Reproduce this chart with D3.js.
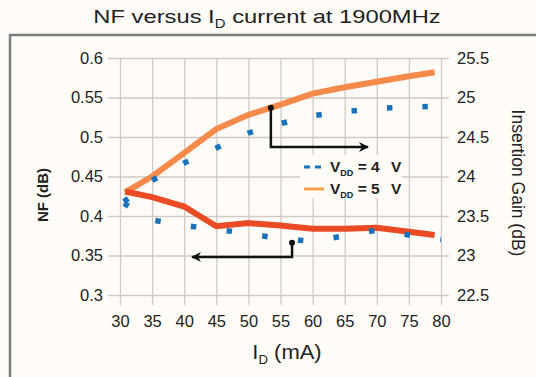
<!DOCTYPE html>
<html>
<head>
<meta charset="utf-8">
<script src="https://cdn.jsdelivr.net/npm/d3@7"></script>
<style>
  body { margin: 0; background: #fffcf7; }
  text { font-family: "Liberation Sans", Arial, sans-serif; fill: #222; }
</style>
</head>
<body>
<div id="chart"></div>
<script>
// x values (mA)
var currents = [30.6, 35, 40, 45, 50, 55, 60, 65, 70, 75, 80];
var currents5 = [30.8, 35, 40, 45, 50, 55, 60, 65, 70, 75, 79];
// NF (dB)
var nf4 = [0.416, 0.395, 0.388, 0.383, 0.378, 0.371, 0.368, 0.375, 0.382, 0.376, 0.370];
var nf5 = [0.431, 0.424, 0.412, 0.387, 0.391, 0.388, 0.384, 0.384, 0.385, 0.380, 0.376];
// insertion gain (dB)
var gain4 = [23.68, 23.95, 24.17, 24.36, 24.55, 24.67, 24.77, 24.82, 24.86, 24.88, 24.89];
var gain5 = [23.80, 24.00, 24.30, 24.60, 24.78, 24.91, 25.05, 25.13, 25.20, 25.27, 25.32];
// ticks
var xTicks = [30, 35, 40, 45, 50, 55, 60, 65, 70, 75, 80];
var nfTicks = [0.3, 0.35, 0.4, 0.45, 0.5, 0.55, 0.6];
var gainTicks = [22.5, 23, 23.5, 24, 24.5, 25, 25.5];

var W = 536, H = 377;
var pL = 120, pR = 441, pT = 58, pB = 295;

var svg = d3.select('#chart').append('svg')
    .attr('width', W)
    .attr('height', H);

svg.append('rect').attr('width', W).attr('height', H).attr('fill', '#fffcf7');

// frame
svg.append('path')
    .attr('d', 'M10,377V35H536')
    .attr('fill', 'none')
    .attr('stroke', '#7d7d7d')
    .attr('stroke-width', 2.5);

var x = d3.scaleLinear().domain([30, 80]).range([pL, pR]);
var yNF = d3.scaleLinear().domain([0.3, 0.6]).range([pB, pT]);
var yG = d3.scaleLinear().domain([22.5, 25.5]).range([pB, pT]);

var gridColor = '#cfcac5';

// left axis + horizontal grid
var gl = svg.append('g')
    .attr('transform', 'translate(108,0)')
    .call(d3.axisLeft(yNF).tickValues(nfTicks).tickSize(-(pR + 8 - 108)).tickPadding(5)
      .tickFormat(function (d) { return String(+d.toFixed(2)); }));
// bottom axis + vertical grid
var gb = svg.append('g')
    .attr('transform', 'translate(0,305)')
    .call(d3.axisBottom(x).tickValues(xTicks).tickSize(-(305 - pT)).tickPadding(10));
// right axis labels
var gr = svg.append('g')
    .attr('transform', 'translate(' + (pR + 8) + ',0)')
    .call(d3.axisRight(yG).tickValues(gainTicks).tickSize(0).tickPadding(8)
      .tickFormat(function (d) { return String(+d.toFixed(1)); }));

[gl, gb, gr].forEach(function (g) {
  g.select('.domain').remove();
  g.selectAll('line').attr('stroke', gridColor).attr('stroke-width', 1.3);
  g.selectAll('text').style('font-size', '16.5px').attr('fill', '#222');
});

// legend background (covers grid)
svg.append('rect')
    .attr('x', 300).attr('y', 155).attr('width', 102).attr('height', 43)
    .attr('fill', '#fffcf7');

svg.append('clipPath').attr('id', 'plot')
  .append('rect').attr('x', pL).attr('y', pT - 10).attr('width', pR - pL).attr('height', pB - pT + 20);

var plot = svg.append('g').attr('clip-path', 'url(#plot)');

var lineNF = d3.line().x(function (d) { return x(d[0]); }).y(function (d) { return yNF(d[1]); });
var lineG = d3.line().x(function (d) { return x(d[0]); }).y(function (d) { return yG(d[1]); });

plot.append('path')
    .attr('d', lineG(d3.zip(currents5, gain5)))
    .attr('fill', 'none').attr('stroke', '#f58a4a').attr('stroke-width', 6);
plot.append('path')
    .attr('d', lineNF(d3.zip(currents5, nf5)))
    .attr('fill', 'none').attr('stroke', '#ea4b24').attr('stroke-width', 6);

plot.append('path')
    .attr('d', lineG(d3.zip(currents, gain4)))
    .attr('fill', 'none').attr('stroke', '#1a72ba').attr('stroke-width', 5.5)
    .attr('stroke-dasharray', '5.5,30');
plot.append('path')
    .attr('d', lineNF(d3.zip(currents, nf4)))
    .attr('fill', 'none').attr('stroke', '#1a72ba').attr('stroke-width', 5.5)
    .attr('stroke-dasharray', '5.5,30.5');

// arrows
svg.append('defs').append('marker')
    .attr('id', 'head').attr('viewBox', '0 0 10 10')
    .attr('refX', 9).attr('refY', 5)
    .attr('markerWidth', 5).attr('markerHeight', 4)
    .attr('markerUnits', 'strokeWidth')
    .attr('orient', 'auto')
  .append('path').attr('d', 'M0,0L10,5L0,10L3,5Z').attr('fill', '#111');

var gx = 53.5, gy = 24.87;
svg.append('path')
    .attr('d', 'M' + x(gx) + ',' + yG(gy) + 'V147H368')
    .attr('fill', 'none').attr('stroke', '#111').attr('stroke-width', 2.5)
    .attr('marker-end', 'url(#head)');
svg.append('circle').attr('cx', x(gx)).attr('cy', yG(gy)).attr('r', 3).attr('fill', '#111');

var nx = 56.8, ny = 0.366;
svg.append('path')
    .attr('d', 'M' + x(nx) + ',' + yNF(ny) + 'V257H192')
    .attr('fill', 'none').attr('stroke', '#111').attr('stroke-width', 2.5)
    .attr('marker-end', 'url(#head)');
svg.append('circle').attr('cx', x(nx)).attr('cy', yNF(ny)).attr('r', 3).attr('fill', '#111');

// legend
var legend = [
  { label: '4', color: '#1a72ba', dash: '6,5', y: 167 },
  { label: '5', color: '#f7a24a', dash: null, y: 189 }
];
legend.forEach(function (l) {
  svg.append('line')
      .attr('x1', 304).attr('x2', 324).attr('y1', l.y).attr('y2', l.y)
      .attr('stroke', l.color).attr('stroke-width', 3)
      .attr('stroke-dasharray', l.dash);
  var t = svg.append('text').attr('x', 330).attr('y', l.y + 5)
      .style('font-size', '15.5px').style('font-weight', 'bold');
  t.append('tspan').text('V');
  t.append('tspan').attr('dy', 4).style('font-size', '9px').text('DD');
  t.append('tspan').attr('dy', -4).text(' = ' + l.label);
  t.append('tspan').attr('x', 391).text('V');
});

// title
var title = svg.append('text')
    .attr('transform', 'translate(267,23) scale(1.25,1)')
    .attr('text-anchor', 'middle').style('font-size', '19px');
title.append('tspan').text('NF versus I');
title.append('tspan').attr('dy', 5).style('font-size', '12px').text('D');
title.append('tspan').attr('dy', -5).text(' current at 1900MHz');

// axis titles
var xt = svg.append('text')
    .attr('transform', 'translate(287,359) scale(1.1,1)')
    .attr('text-anchor', 'middle').style('font-size', '20px');
xt.append('tspan').text('I');
xt.append('tspan').attr('dy', 5).style('font-size', '12px').text('D');
xt.append('tspan').attr('dy', -5).text(' (mA)');

svg.append('text')
    .attr('transform', 'translate(48,195) rotate(-90)')
    .attr('text-anchor', 'middle').style('font-size', '15px').style('font-weight', 'bold')
    .text('NF (dB)');

svg.append('text')
    .attr('transform', 'translate(512,183) rotate(90)')
    .attr('text-anchor', 'middle').style('font-size', '17.5px')
    .text('Insertion Gain (dB)');
</script>
</body>
</html>
